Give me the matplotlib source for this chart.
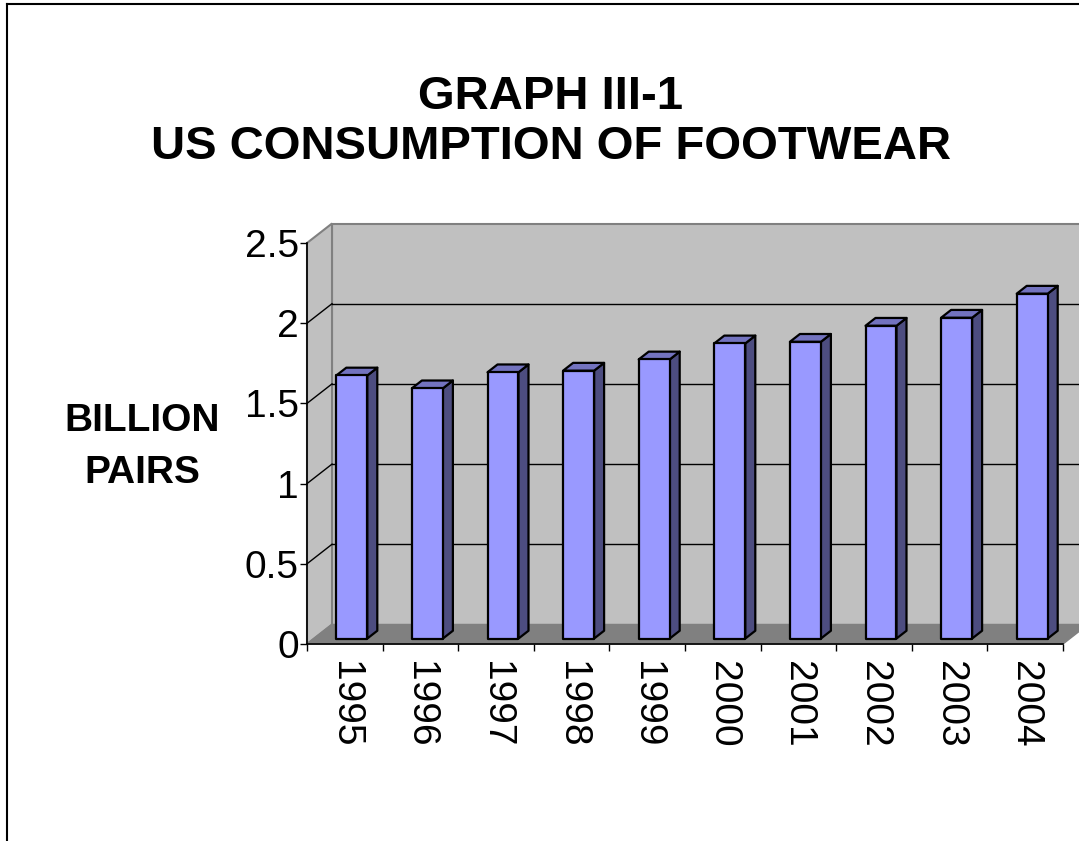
import matplotlib
matplotlib.use("Agg")
import matplotlib.pyplot as plt
from matplotlib.patches import Polygon, Rectangle
from matplotlib.lines import Line2D

plt.rcParams['font.family'] = ['Liberation Sans', 'DejaVu Sans']

# data (billion pairs)
years = ["1995", "1996", "1997", "1998", "1999", "2000", "2001", "2002", "2003", "2004"]
pairs = [1.64, 1.56, 1.66, 1.67, 1.74, 1.84, 1.85, 1.95, 2.00, 2.15]
y_ticks = [0, 0.5, 1, 1.5, 2, 2.5]
y_tick_labels = ["0", "0.5", "1", "1.5", "2", "2.5"]

W, H = 1079, 841
fig = plt.figure(figsize=(W / 100, H / 100), dpi=100)
fig.patch.set_facecolor("white")

# front plane of the 3d box in pixels
left_px, right_px = 307, 1063
zero_px, top_px = 644, 243
ax = fig.add_axes([left_px / W, 1 - zero_px / H,
                   (right_px - left_px) / W, (zero_px - top_px) / H])
ax.set_facecolor("none")
n = len(years)
ax.set_xlim(0, n)
ax.set_ylim(0, 2.5)

# depth of the box, converted from pixels to data units
DX = 25 / ((right_px - left_px) / n)
DY = 19.5 / ((zero_px - top_px) / 2.5)

wall = "#c0c0c0"
edge = "#808080"

# back wall, side wall, floor
ax.add_patch(Polygon([(DX, DY), (n + DX, DY), (n + DX, 2.5 + DY), (DX, 2.5 + DY)],
                     closed=True, fc=wall, ec=edge, lw=1.5, clip_on=False, zorder=1))
ax.add_patch(Polygon([(0, 0), (DX, DY), (DX, 2.5 + DY), (0, 2.5)],
                     closed=True, fc=wall, ec=edge, lw=1.5, clip_on=False, zorder=1))
ax.add_patch(Polygon([(0, 0), (n, 0), (n + DX, DY), (DX, DY)],
                     closed=True, fc="#808080", ec=edge, lw=1, clip_on=False, zorder=2))

# gridlines on the walls
for yv in y_ticks[1:-1]:
    ax.plot([DX, n + DX], [yv + DY, yv + DY], color="black", lw=1, clip_on=False, zorder=2)
    ax.plot([0, DX], [yv, yv + DY], color="black", lw=1, clip_on=False, zorder=2)

# bars
bw = 0.41
bd = 0.4
f = 0.28
front_c = "#9999ff"
side_c = "#4d4d80"
top_c = "#7373bf"
for i, v in enumerate(pairs):
    x0 = i + 0.5 - bw / 2 + f * DX
    y0 = f * DY
    ex, ey = bd * DX, bd * DY
    ax.add_patch(Polygon([(x0 + bw, y0), (x0 + bw + ex, y0 + ey),
                          (x0 + bw + ex, y0 + v + ey), (x0 + bw, y0 + v)],
                         closed=True, fc=side_c, ec="black", lw=1.6, joinstyle="round",
                         clip_on=False, zorder=3))
    ax.add_patch(Polygon([(x0, y0 + v), (x0 + bw, y0 + v),
                          (x0 + bw + ex, y0 + v + ey), (x0 + ex, y0 + v + ey)],
                         closed=True, fc=top_c, ec="black", lw=1.6, joinstyle="round",
                         clip_on=False, zorder=3))
    ax.add_patch(Rectangle((x0, y0), bw, v, fc=front_c, ec="black", lw=1.6,
                           joinstyle="round", clip_on=False, zorder=4))

# axes
for s in ["top", "right"]:
    ax.spines[s].set_visible(False)
for s in ["left", "bottom"]:
    ax.spines[s].set_color("black")
    ax.spines[s].set_linewidth(1.2)
    ax.spines[s].set_zorder(5)

ax.set_yticks(y_ticks)
ax.set_yticklabels(y_tick_labels)
ax.tick_params(axis="y", direction="out", length=5, width=1, pad=1, labelsize=28)

ax.set_xticks(range(n + 1))
ax.set_xticklabels([])
ax.set_xticks([i + 0.5 for i in range(n)], minor=True)
ax.set_xticklabels(years, minor=True, rotation=270, fontsize=28)
ax.tick_params(axis="x", which="major", direction="out", length=5, width=1)
ax.tick_params(axis="x", which="minor", length=0, pad=12)

# titles
fig.text(551 / W, 1 - 97 / H, "GRAPH III-1", ha="center", va="center",
         fontsize=34, fontweight="bold")
fig.text(551 / W, 1 - 147 / H, "US CONSUMPTION OF FOOTWEAR", ha="center", va="center",
         fontsize=34, fontweight="bold")
fig.text(142 / W, 1 - 421 / H, "BILLION", ha="center", va="center",
         fontsize=28, fontweight="bold")
fig.text(142 / W, 1 - 473 / H, "PAIRS", ha="center", va="center",
         fontsize=28, fontweight="bold")

# chart area border (only top and left are inside the picture)
fig.add_artist(Line2D([6.5 / W, 1], [1 - 4 / H, 1 - 4 / H], transform=fig.transFigure,
                      color="black", lw=1.5))
fig.add_artist(Line2D([6.5 / W, 6.5 / W], [0, 1 - 4 / H], transform=fig.transFigure,
                      color="black", lw=1.5))

fig.savefig("out.png", dpi=100)
